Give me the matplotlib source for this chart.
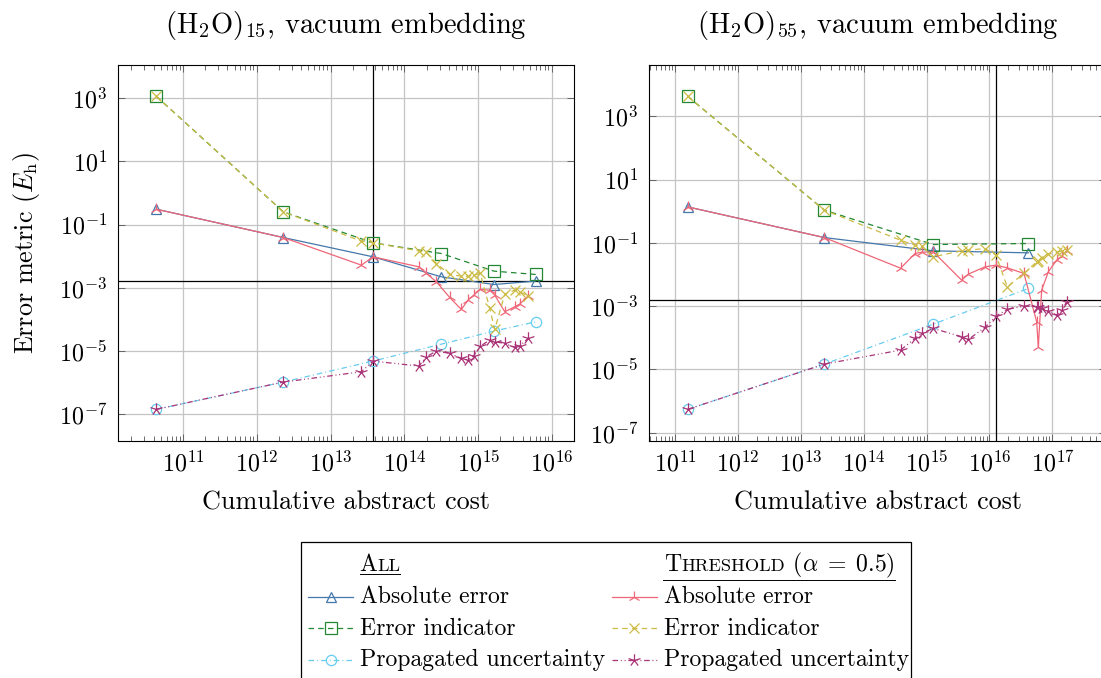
import matplotlib
matplotlib.use("Agg")
import matplotlib.pyplot as plt
from matplotlib.path import Path
from matplotlib.patches import Rectangle
from matplotlib.ticker import LogLocator, FixedLocator, NullLocator, NullFormatter

plt.rcParams.update({
    "font.family": "cmr10",
    "mathtext.fontset": "cm",
    "axes.formatter.use_mathtext": True,
    "lines.scale_dashes": False,
})

# ---------------- data: (H2O)15 ----------------
w15_all_cost = [4.35e10, 2.29e12, 3.77e13, 3.18e14, 1.64e15, 6.04e15]
w15_all_abs = [0.305, 0.0388, 9.53e-3, 2.22e-3, 1.27e-3, 1.63e-3]
w15_all_ind = [1130, 0.251, 0.0264, 0.0121, 3.36e-3, 2.64e-3]
w15_all_unc = [1.44e-7, 1.05e-6, 4.83e-6, 1.66e-5, 4.28e-5, 8.4e-5]

w15_thr_cost = [4.35e10, 2.29e12, 2.62e13, 3.77e13, 1.58e14, 1.99e14, 2.72e14,
                4.12e14, 5.93e14, 7.31e14, 8.71e14, 1.07e15, 1.44e15, 1.68e15,
                2.30e15, 3.13e15, 3.66e15, 4.75e15]
w15_thr_abs = [0.305, 0.0388, 5.2e-3, 9.53e-3, 4.6e-3, 2.84e-3, 1.55e-3,
               4.95e-4, 2.07e-4, 4.08e-4, 5.86e-4, 8.86e-4, 8.44e-4, 5.86e-4,
               1.75e-4, 2.51e-4, 3.05e-4, 5.46e-4]
w15_thr_ind = [1130, 0.251, 0.0298, 0.0264, 0.0147, 0.0131, 5.86e-3,
               2.64e-3, 2.33e-3, 2.33e-3, 2.51e-3, 2.84e-3, 2.22e-4, 4.83e-5,
               6.31e-4, 8.44e-4, 7.48e-4, 5.46e-4]
w15_thr_unc = [1.44e-7, 1.05e-6, 2.22e-6, 4.83e-6, 3.36e-6, 6.62e-6, 1.0e-5,
               8.44e-6, 5.86e-6, 5.2e-6, 7.13e-6, 1.44e-5, 2.22e-5, 1.97e-5,
               1.75e-5, 1.31e-5, 1.44e-5, 2.51e-5]
w15_ref_cost = 3.77e13

# ---------------- data: (H2O)55 ----------------
w55_all_cost = [1.59e11, 2.37e13, 1.28e15, 4.15e16]
w55_all_abs = [1.37, 0.147, 0.0559, 0.0483]
w55_all_ind = [4280, 1.08, 0.0885, 0.0953]
w55_all_unc = [5.46e-7, 1.47e-5, 2.70e-4, 3.61e-3]

w55_thr_cost = [1.59e11, 2.37e13, 3.87e14, 6.55e14, 8.36e14, 1.28e15, 3.61e15,
                4.62e15, 8.49e15, 1.27e16, 1.92e16, 3.54e16, 5.63e16, 5.98e16,
                6.76e16, 8.63e16, 1.17e17, 1.41e17, 1.69e17]
w55_thr_abs = [1.37, 0.147, 0.0158, 0.046, 0.0507, 0.052, 6.62e-3, 0.01025,
               0.01745, 0.0197, 0.01626, 0.01076, 3.2e-4, 5.2e-5, 3.2e-3,
               0.01213, 0.0284, 0.0379, 0.0558]
w55_thr_ind = [4280, 1.08, 0.121, 0.0844, 0.0804, 0.0361, 0.0559, 0.0586,
               0.0662, 0.0408, 4.08e-3, 0.01076, 0.0251, 0.027, 0.0344, 0.0438,
               0.0496, 0.0559, 0.0615]
w55_thr_unc = [5.46e-7, 1.47e-5, 4.08e-5, 9.53e-5, 1.37e-4, 1.97e-4, 1.08e-4,
               8.86e-5, 2.12e-4, 4.83e-4, 7.85e-4, 1.0e-3, 9.53e-4, 9.08e-4,
               8.44e-4, 7.13e-4, 5.2e-4, 7.48e-4, 1.37e-3]
w55_ref_cost = 1.285e16

chem_acc = 1.6e-3
y_ticks = [1e-7, 1e-5, 1e-3, 1e-1, 1e1, 1e3]

titles = [r"$\mathrm{(H_2O)_{15}}$, vacuum embedding",
          r"$\mathrm{(H_2O)_{55}}$, vacuum embedding"]
xlabel = "Cumulative abstract cost"
ylabel = r"Error metric ($E_\mathrm{h}$)"
series_labels = ["Absolute error", "Error indicator", "Propagated uncertainty"]

# ---------------- styles ----------------
star_path = Path(
    [(0, 0), (0, 1),
     (0, 0), (0.951, 0.309),
     (0, 0), (0.588, -0.809),
     (0, 0), (-0.588, -0.809),
     (0, 0), (-0.951, 0.309)],
    [Path.MOVETO, Path.LINETO] * 5)

DASHED = (0, (4.0, 3.0))
DASHDOT = (0, (4.0, 2.2, 0.7, 2.2))
DASHDOTDOT = (0, (4.0, 2.0, 0.7, 2.0, 0.7, 2.0))

LW = 0.9
style_all = [
    dict(color="#4477AA", ls="-", marker="^", ms=7.5),
    dict(color="#228833", ls=DASHED, marker="s", ms=8.2),
    dict(color="#66CCEE", ls=DASHDOT, marker="o", ms=7.4),
]
style_thr = [
    dict(color="#EE6677", ls="-", marker="2", ms=8.5),
    dict(color="#CCBB44", ls=DASHED, marker="x", ms=7.0),
    dict(color="#AA3377", ls=DASHDOTDOT, marker=star_path, ms=9.0),
]


def draw(ax, x, y, st, **kw):
    ax.plot(x, y, color=st["color"], ls=st["ls"], lw=LW, marker=st["marker"],
            ms=st["ms"], mfc="none", mec=st["color"], mew=0.9, **kw)


W, H = 1101, 678
fig = plt.figure(figsize=(W / 100, H / 100), dpi=100)

ax1 = fig.add_axes([118 / W, (H - 441) / H, 456 / W, 376 / H])
ax2 = fig.add_axes([649.3 / W, (H - 441) / H, 456.7 / W, 376 / H])

panels = [
    (ax1, (w15_all_cost, w15_all_abs, w15_all_ind, w15_all_unc),
     (w15_thr_cost, w15_thr_abs, w15_thr_ind, w15_thr_unc), w15_ref_cost,
     (10 ** 10.119, 10 ** 16.30), (10 ** -7.842, 10 ** 4.042)),
    (ax2, (w55_all_cost, w55_all_abs, w55_all_ind, w55_all_unc),
     (w55_thr_cost, w55_thr_abs, w55_thr_ind, w55_thr_unc), w55_ref_cost,
     (10 ** 10.592, 10 ** 17.853), (10 ** -7.263, 10 ** 4.621)),
]

for ax, allset, thrset, ref_x, xl, yl in panels:
    ax.set_xscale("log")
    ax.set_yscale("log")
    ax.axhline(chem_acc, color="black", lw=0.9, zorder=1.6)
    ax.axvline(ref_x, color="black", lw=0.9, zorder=1.6)
    cost = allset[0]
    for vals, st in zip(allset[1:], style_all):
        draw(ax, cost, vals, st, zorder=2)
    cost = thrset[0]
    for vals, st in zip(thrset[1:], style_thr):
        draw(ax, cost, vals, st, zorder=2.1)
    ax.set_xlim(*xl)
    ax.set_ylim(*yl)
    ax.xaxis.set_major_locator(LogLocator(base=10, numticks=30))
    ax.xaxis.set_minor_locator(LogLocator(base=10, subs=range(2, 10), numticks=30))
    ax.xaxis.set_minor_formatter(NullFormatter())
    ax.yaxis.set_major_locator(FixedLocator(y_ticks))
    ax.yaxis.set_minor_locator(NullLocator())
    ax.grid(True, which="major", color="#c4c4c4", lw=0.9, zorder=0)
    ax.set_axisbelow(True)
    ax.tick_params(which="both", direction="in", top=True, right=True,
                   color="#555555", width=0.6)
    ax.tick_params(which="major", length=5.0, labelsize=17.3)
    ax.tick_params(which="minor", length=3.4)
    ax.tick_params(axis="y", pad=8)
    ax.tick_params(axis="x", pad=7)
    for sp in ax.spines.values():
        sp.set_color("black")
        sp.set_linewidth(0.8)
    ax.set_xlabel(xlabel, fontsize=18.8)
    ax.xaxis.set_label_coords(0.5, (441 - 510) / 376)
    ax.xaxis.label.set_va("baseline")

ax1.set_ylabel(ylabel, fontsize=18.8)
ax1.yaxis.set_label_coords((42 - 118) / 456, 0.5)

fig.text(346 / W, 1 - 33.3 / H, titles[0], ha="center", va="baseline", fontsize=20.5)
fig.text(877.7 / W, 1 - 33.3 / H, titles[1], ha="center", va="baseline", fontsize=20.5)

# ---------------- legend (drawn in pixel space) ----------------
lax = fig.add_axes([0, 0, 1, 1], zorder=5)
lax.set_xlim(0, W)
lax.set_ylim(H, 0)
lax.axis("off")
lax.patch.set_alpha(0)

lax.add_patch(Rectangle((300.7, 542), 610, 160, fill=True, facecolor="white",
                        edgecolor="black", lw=0.9, clip_on=False))

renderer = fig.canvas.get_renderer()


def pieces(x, y, parts):
    for s, size in parts:
        t = lax.text(x, y, s, fontsize=size, ha="left", va="baseline", clip_on=False)
        x += t.get_window_extent(renderer=renderer).width
    return x


FS = 17.1
SC = 13.2
hdr_base = 571.3
x_end = pieces(359.7, hdr_base, [("A", FS), ("LL", SC)])
lax.plot([359.7, x_end], [hdr_base + 2.7] * 2, color="black", lw=0.7, clip_on=False)
x_end = pieces(664, hdr_base, [("T", FS), ("HRESHOLD", SC),
                               (r" ($\alpha\;=\;0.5$)", FS)])
lax.plot([663.3, x_end], [hdr_base + 9.0] * 2, color="black", lw=0.7, clip_on=False)

row_handle_y = [597.3, 628.0, 659.7]
row_text_y = [603.0, 634.7, 666.3]
cols = [((308, 353), 359.7, style_all), ((611.7, 656.7), 664, style_thr)]
for (hx0, hx1), tx, styles in cols:
    for hy, ty, st, lab in zip(row_handle_y, row_text_y, styles, series_labels):
        lax.plot([hx0, hx1], [hy, hy], color=st["color"], ls=st["ls"], lw=LW,
                 clip_on=False)
        lax.plot([(hx0 + hx1) / 2], [hy], ls="none", marker=st["marker"],
                 ms=st["ms"], mfc="none", mec=st["color"], mew=0.9, clip_on=False)
        lax.text(tx, ty, lab, fontsize=FS, ha="left", va="baseline")

fig.savefig("out.png", dpi=100)
